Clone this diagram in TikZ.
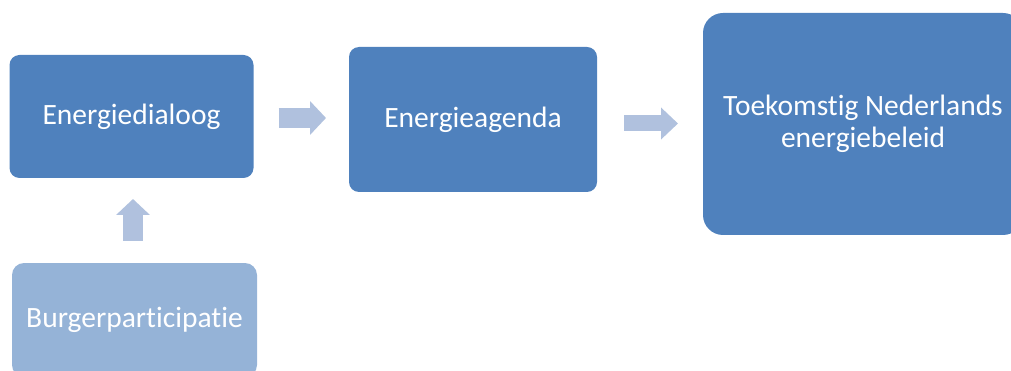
\documentclass[tikz,border=0pt]{standalone}
\usepackage{fontspec}
\setmainfont{Carlito}[Ligatures=NoCommon]
\usepackage{xcolor}
\usepackage{tikz}
\usetikzlibrary{arrows.meta, calc}

\definecolor{blokdonker}{RGB}{79,129,189}
\definecolor{bloklicht}{RGB}{149,179,215}
\definecolor{pijlkleur}{RGB}{176,193,222}

\begin{document}
\begin{tikzpicture}[x=1pt, y=1pt,
    blok/.style={rectangle, rounded corners=10pt, fill=blokdonker, text=white,
      inner sep=0pt, outer sep=0pt, align=center,
      font=\fontsize{29.5}{32}\selectfont},
    pijl/.style={draw=pijlkleur, line width=20pt,
      -{Triangle[width=33pt, length=16pt, fill=pijlkleur]}}]
  \useasboundingbox (0,0) rectangle (1011,-371);
  \clip (0,0) rectangle (1011,-371);

  % Energiedialoog
  \node[blok, minimum width=244pt, minimum height=123pt] (dialoog) at (131.5,-116.5) {Energiedialoog};

  % Energieagenda
  \node[blok, minimum width=248pt, minimum height=145pt] (agenda) at (473,-119.5) {Energieagenda};

  % Toekomstig beleid (valt rechts buiten beeld)
  \node[blok, rounded corners=20pt, minimum width=320pt, minimum height=222pt] (beleid) at (863,-124)
    {Toekomstig Nederlands\\energiebeleid};

  % Burgerparticipatie (valt onder buiten beeld)
  \node[blok, fill=bloklicht, rounded corners=12pt, minimum width=245pt, minimum height=114pt] (burger) at (134.5,-320)
    {Burgerparticipatie};

  % pijlen
  \draw[pijl] ($(dialoog.east)+(25,-1.5)$) -- ($(agenda.west)+(-23,1.5)$);
  \draw[pijl, line width=16pt, -{Triangle[width=31pt, length=17pt, fill=pijlkleur]}]
    ($(agenda.east)+(27,-4)$) -- ($(beleid.west)+(-25,0.5)$);
  \draw[pijl] ($(burger.north)+(-1.5,22)$) -- ($(dialoog.south)+(1.5,-21)$);
\end{tikzpicture}
\end{document}
